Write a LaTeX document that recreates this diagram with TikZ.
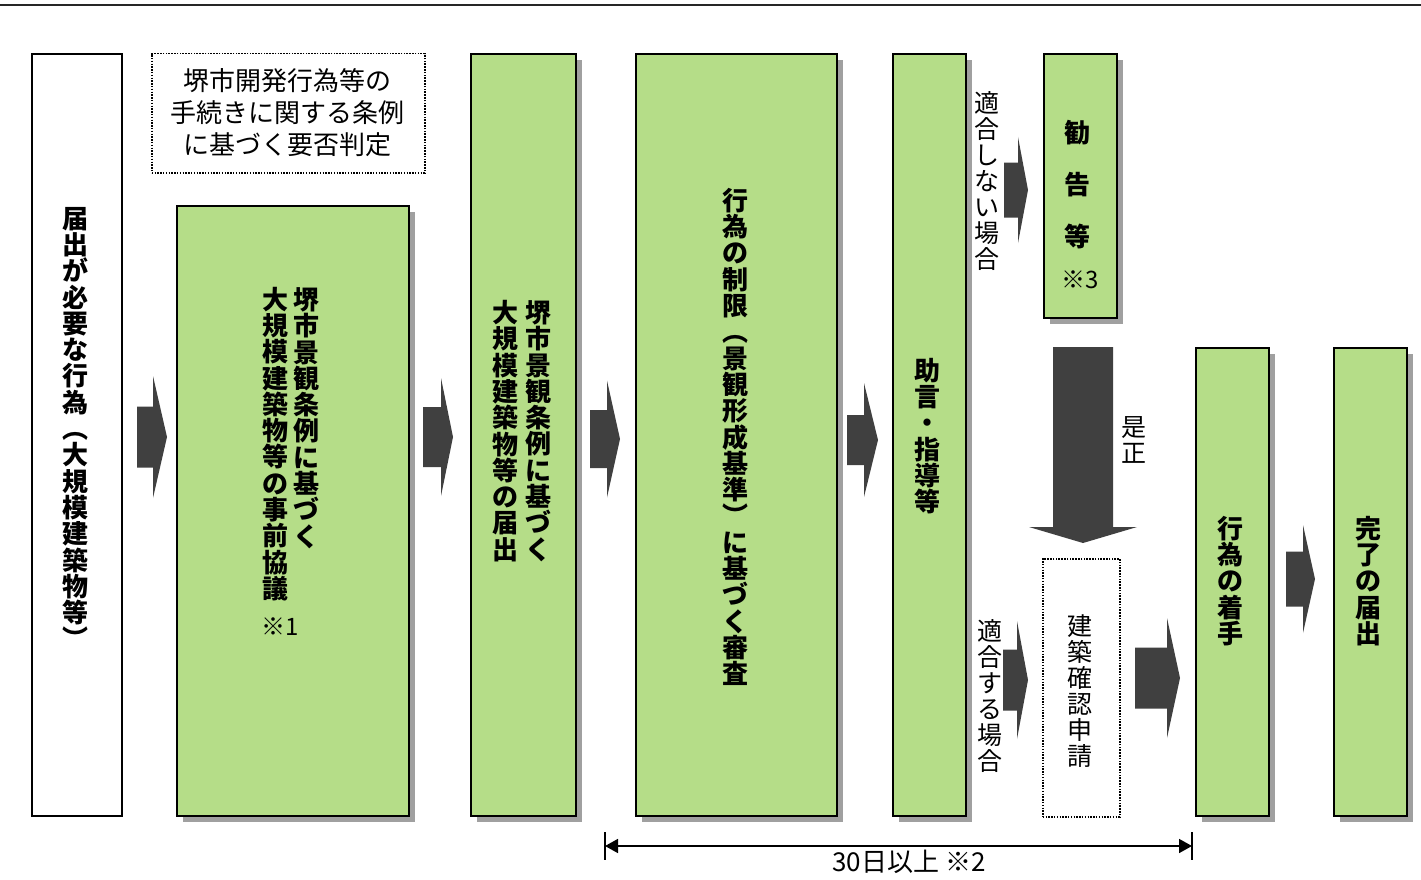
\documentclass[tikz,border=0pt]{standalone}
\usepackage{fontspec}
\setmainfont{Noto Sans CJK JP}
\usetikzlibrary{arrows.meta,shadows}
\definecolor{gfill}{RGB}{181,221,136}
\definecolor{darr}{RGB}{64,64,64}
\definecolor{shadowc}{RGB}{160,160,160}
\tikzset{
  gbox/.style={draw=black, line width=1.6pt, fill=gfill, inner sep=0pt, anchor=north west,
    drop shadow={shadow xshift=6pt, shadow yshift=-6pt, fill=shadowc, opacity=1}},
  wbox/.style={draw=black, line width=1.6pt, fill=white, inner sep=0pt, anchor=north west},
  dbox/.style={draw=black, line width=1.5pt, dash pattern=on 1.5pt off 1.3pt, fill=white, inner sep=0pt, anchor=north west},
  vbold/.style={font=\fontsize{26}{26.3}\selectfont\bfseries, align=center, inner sep=0pt},
  vreg/.style={font=\fontsize{25}{26}\selectfont, align=center, inner sep=0pt},
  note/.style={font=\fontsize{24}{26}\selectfont, inner sep=0pt},
  blk/.style={fill=darr},
}
\newcommand\blockarr[6]{\fill[blk] (#1,#4-#5) -- (#2,#4-#5) -- (#2,#4-#6) -- (#3,#4) -- (#2,#4+#6) -- (#2,#4+#5) -- (#1,#4+#5) -- cycle;}
\begin{document}
\begin{tikzpicture}[x=1pt,y=-1pt]
\fill[white] (0,0) rectangle (1421,880);
\useasboundingbox (0,0) rectangle (1421,880);
% top rule
\coordinate (tl) at (0,5);
\coordinate (tr) at (1421,5);
\draw[line width=1.5pt, black!85] (tl) -- (tr);

% boxes
\node[wbox, minimum width=90pt, minimum height=762pt] (b1) at (31,53) {};
\node[dbox, minimum width=273pt, minimum height=119pt] (pre) at (151,53) {};
\node[gbox, minimum width=232pt, minimum height=610pt] (b2) at (176,205) {};
\node[gbox, minimum width=105pt, minimum height=762pt] (b3) at (470,53) {};
\node[gbox, minimum width=201pt, minimum height=762pt] (b4) at (635,53) {};
\node[gbox, minimum width=73pt, minimum height=762pt] (b5) at (892,53) {};
\node[gbox, minimum width=73pt, minimum height=264pt] (b6) at (1043,53) {};
\node[dbox, minimum width=77pt, minimum height=258pt] (bk) at (1042,558) {};
\node[gbox, minimum width=73pt, minimum height=468pt] (b7) at (1195,347) {};
\node[gbox, minimum width=73pt, minimum height=468pt] (b8) at (1333,347) {};

% texts
\node[vreg, font=\fontsize{26}{32}\selectfont] (tpre) at (287.5,113) {堺市開発行為等の\\手続きに関する条例\\に基づく要否判定};
\node[vbold] (t1) at (75,428) {届\\出\\が\\必\\要\\な\\行\\為\\︵\\大\\規\\模\\建\\築\\物\\等\\︶};
\node[vbold] (t2a) at (306,418) {堺\\市\\景\\観\\条\\例\\に\\基\\づ\\く};
\node[vbold] (t2b) at (275,444) {大\\規\\模\\建\\築\\物\\等\\の\\事\\前\\協\\議};
\node[note] (n1) at (280,627) {※1};
\node[vbold] (t3a) at (538,431) {堺\\市\\景\\観\\条\\例\\に\\基\\づ\\く};
\node[vbold] (t3b) at (505,431) {大\\規\\模\\建\\築\\物\\等\\の\\届\\出};
\node[vbold] (t4) at (735,437) {行\\為\\の\\制\\限\\︵\\景\\観\\形\\成\\基\\準\\︶\\に\\基\\づ\\く\\審\\査};
\node[vbold] (t5) at (927,436) {助\\言\\・\\指\\導\\等};
\node[vbold, font=\fontsize{26}{52}\selectfont\bfseries] (t6) at (1077,185) {勧\\告\\等};
\node[note] (n3) at (1080,280) {※3};
\node[vreg] (tng) at (987,181) {適\\合\\し\\な\\い\\場\\合};
\node[vreg] (tok) at (990,696) {適\\合\\す\\る\\場\\合};
\node[vreg] (tze) at (1134,440) {是\\正};
\node[vreg] (tbk) at (1080,691) {建\\築\\確\\認\\申\\請};
\node[vbold] (t7) at (1230,581) {行\\為\\の\\着\\手};
\node[vbold] (t8) at (1368,581) {完\\了\\の\\届\\出};

% block arrows
\blockarr{137}{153}{167}{437}{30.5}{61}
\blockarr{423}{441}{453}{437}{30}{59}
\blockarr{590}{607}{620}{439}{29}{58.5}
\blockarr{847}{864}{878}{440}{25}{57}
\blockarr{1004}{1018}{1028}{190}{27.5}{53}
\blockarr{1003}{1017}{1028}{680}{30.5}{59}
\blockarr{1135}{1167}{1180}{678}{30.5}{60}
\blockarr{1286}{1303}{1315}{579}{27.5}{54}
\fill[blk] (1053,347) -- (1113,347) -- (1113,527) -- (1137,527) -- (1083,543) -- (1029,527) -- (1053,527) -- cycle;

% dimension
\coordinate (dL) at (605,846);
\coordinate (dR) at (1192,846);
\draw[line width=1.6pt, {Triangle[length=13pt,width=14pt]}-{Triangle[length=13pt,width=14pt]}] (dL) -- (dR);
\draw[line width=1.4pt] (dL) ++(0,-14) -- ++(0,28);
\draw[line width=1.4pt] (dR) ++(0,-14) -- ++(0,28);
\node[note, font=\fontsize{26}{28}\selectfont] (dim) at (909,862) {30日以上 ※2};
\end{tikzpicture}
\end{document}
